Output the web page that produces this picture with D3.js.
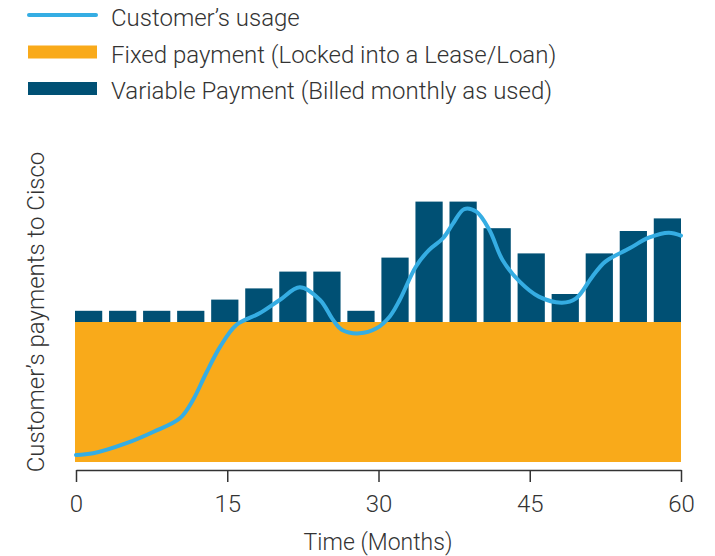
<!DOCTYPE html>
<html>
<head>
<meta charset="utf-8">
<script src="https://cdn.jsdelivr.net/npm/d3@7"></script>
<style>
  body { margin: 0; background: #fff; }
  svg { display: block; font-family: Roboto, "Open Sans", sans-serif; font-weight: 300; }
</style>
</head>
<body>
<svg width="715" height="556"></svg>
<script>
// legend labels
var legendLabels = ["Customer\u2019s usage", "Fixed payment (Locked into a Lease/Loan)", "Variable Payment (Billed monthly as used)"];

// fixed payment level and the variable part billed on top of it (18 billing periods)
var fixedPayment = 10;
var variablePayment = [0.8, 0.8, 0.8, 0.8, 1.6, 2.4, 3.6, 3.6, 0.8, 4.6, 8.6, 8.6, 6.7, 4.9, 2.0, 4.9, 6.5, 7.4];

// customer's usage curve
var usageMonths = [0, 1.7, 5, 7.7, 10.3, 11.6, 12.9, 14.3, 15.9, 18.2, 20.2, 22.2, 24.2, 25.5, 26.4, 28.1, 29.8, 31.1, 32.1, 33.7, 35, 36.4, 37.4, 38.5, 39.7, 41, 42.3, 44, 45.9, 48.2, 49.6, 51.2, 52.5, 54.9, 56.8, 58.8, 60];
var usageValues = [0.5, 0.62, 1.34, 2.16, 3.12, 4.43, 6.34, 8.24, 9.79, 10.62, 11.57, 12.48, 11.57, 10.14, 9.43, 9.19, 9.55, 10.38, 11.57, 13.95, 15.14, 15.98, 17.05, 18.07, 17.88, 16.57, 14.43, 12.88, 11.81, 11.38, 11.69, 13.24, 14.31, 15.26, 16.02, 16.38, 16.17];

var xTicks = [0, 15, 30, 45, 60];

var svg = d3.select("svg"),
    textColor = "#333",
    orange = "#f9aa1a",
    navy = "#005074",
    blue = "#35ade3";

var x = d3.scaleLinear()
    .domain([0, 60])
    .range([76, 681]);

var y = d3.scaleLinear()
    .domain([0, 20])
    .range([462, 182]);

var band = d3.scaleBand()
    .domain(d3.range(variablePayment.length))
    .range([75, 681])
    .paddingInner(0.2)
    .paddingOuter(0);

// fixed payment block
svg.append("rect")
    .attr("x", 75)
    .attr("y", y(fixedPayment))
    .attr("width", 681 - 75)
    .attr("height", y(0) - y(fixedPayment))
    .attr("fill", orange);

// variable payment bars
svg.append("g")
    .selectAll("rect")
    .data(variablePayment)
    .enter().append("rect")
    .attr("x", function (d, i) { return band(i); })
    .attr("width", band.bandwidth())
    .attr("y", function (d) { return y(fixedPayment + d); })
    .attr("height", function (d) { return y(fixedPayment) - y(fixedPayment + d); })
    .attr("fill", navy);

// usage line
var line = d3.line()
    .x(function (d, i) { return x(usageMonths[i]); })
    .y(function (d) { return y(d); })
    .curve(d3.curveCatmullRom.alpha(0.5));

svg.append("path")
    .datum(usageValues)
    .attr("d", line)
    .attr("fill", "none")
    .attr("stroke", blue)
    .attr("stroke-width", 4)
    .attr("stroke-linecap", "round");

// x axis
var xAxis = svg.append("g")
    .attr("transform", "translate(0,470)")
    .call(d3.axisBottom(x).tickValues(xTicks).tickSize(12).tickSizeOuter(0).tickPadding(13));

xAxis.select(".domain").attr("stroke", textColor).attr("stroke-width", 1.5);
xAxis.selectAll(".tick line").attr("stroke", textColor).attr("stroke-width", 1.5);
xAxis.selectAll(".tick text")
    .attr("fill", textColor)
    .style("font-size", "24px")
    .style("font-family", "Roboto, sans-serif")
    .style("font-weight", 300);

svg.append("text")
    .attr("x", 378)
    .attr("y", 550)
    .attr("text-anchor", "middle")
    .attr("fill", textColor)
    .style("font-size", "23px")
    .text("Time (Months)");

svg.append("text")
    .attr("transform", "translate(44,312) rotate(-90)")
    .attr("text-anchor", "middle")
    .attr("fill", textColor)
    .style("font-size", "24px")
    .text("Customer\u2019s payments to Cisco");

// legend
var legend = svg.append("g").selectAll("g")
    .data(legendLabels)
    .enter().append("g")
    .attr("transform", function (d, i) { return "translate(0," + (i * 36.5) + ")"; });

legend.each(function (d, i) {
    var g = d3.select(this);
    if (i === 0) {
        g.append("line")
            .attr("x1", 29).attr("x2", 96)
            .attr("y1", 15).attr("y2", 15)
            .attr("stroke", blue)
            .attr("stroke-width", 4)
            .attr("stroke-linecap", "round");
    } else {
        g.append("rect")
            .attr("x", 28).attr("y", 9)
            .attr("width", 69).attr("height", 13)
            .attr("fill", i === 1 ? orange : navy);
    }
    g.append("text")
        .attr("x", 111)
        .attr("y", 26)
        .attr("fill", textColor)
        .style("font-size", "24px")
        .text(d);
});
</script>
</body>
</html>
